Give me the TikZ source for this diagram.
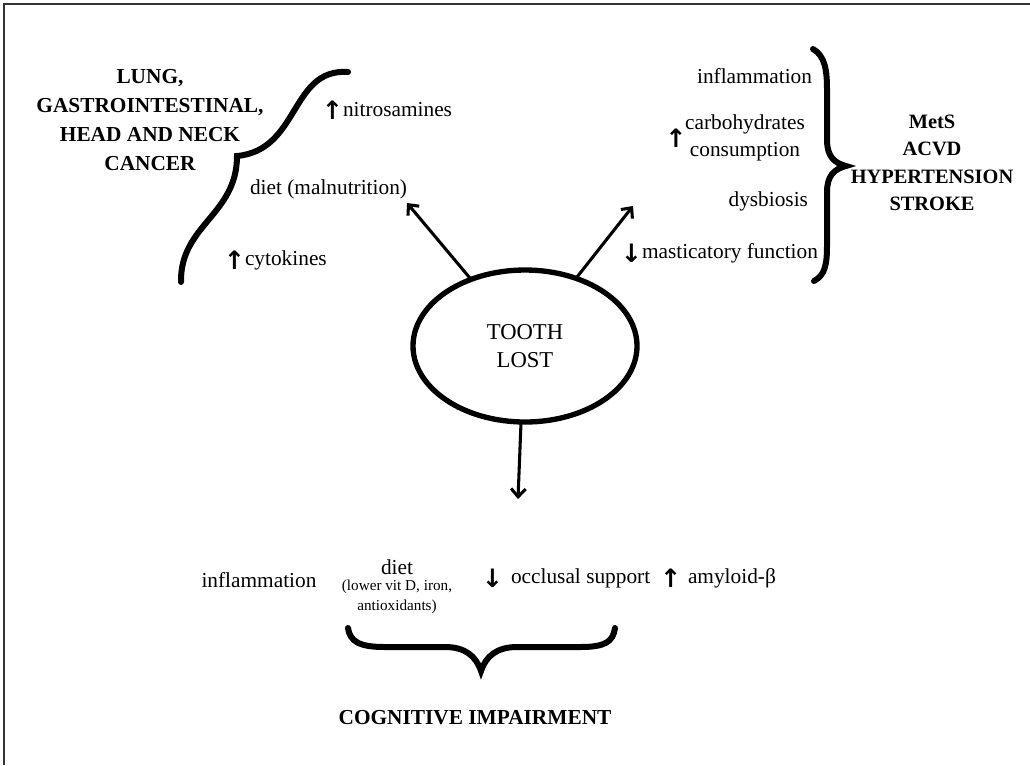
\documentclass[tikz,border=0pt]{standalone}
\usepackage{fontspec}
\setmainfont{Liberation Serif}
\newfontfamily\arrowfont{DejaVu Sans}
\usetikzlibrary{shapes.geometric,arrows.meta,positioning}

\begin{document}
\begin{tikzpicture}[x=0.75pt, y=-0.75pt,
        every node/.style={inner sep=0pt, outer sep=0pt, font=\fontsize{16}{20}\selectfont},
        disease/.style={align=center, font=\fontsize{16}{21.6}\selectfont\bfseries},
        factor/.style={align=center},
        small/.style={align=center, font=\fontsize{11.4}{15}\selectfont},
        updown/.style={font=\arrowfont\bfseries\fontsize{19}{19}\selectfont},
        link/.style={line width=2.3pt, -{Straight Barb[length=6pt,width=11pt,line width=2.3pt]}},
        curly/.style={line width=4.5pt, line cap=round, line join=miter}]
        \useasboundingbox (0,0) rectangle (1030,765);
        \draw[line width=1.5pt, black!80] (4,765) -- (4,4) -- (1030,4);

        % centre
        \node[ellipse, draw, line width=4pt, minimum width=168pt, minimum height=114pt,
            align=center, font=\fontsize{17}{21.5}\selectfont] (tooth) at (525,346) {TOOTH\\LOST};
        \coordinate (dietend) at (407,203);
        \coordinate (metsend) at (633,206);
        \coordinate (cogend) at (518,499);
        \draw[link] (tooth.129) -- (dietend);
        \draw[link] (tooth.53) -- (metsend);
        \draw[link] (tooth.267) -- (cogend);

        % cancer side
        \node[disease] (cancer) at (150,120) {LUNG,\\GASTROINTESTINAL,\\HEAD AND NECK\\CANCER};
        \node[anchor=west] (nitro) at (343,110) {nitrosamines};
        \node[updown, left=0pt of nitro] (nitroup) {↑};
        \node[anchor=west] (dietmal) at (250,189) {diet (malnutrition)};
        \node[anchor=west] (cyto) at (245,260) {cytokines};
        \node[updown, left=0pt of cyto] (cytoup) {↑};
        \draw[curly] (181,282) .. controls (180,225) and (237,215) .. (237,156)
            .. controls (300,150) and (290,68) .. (348,72);

        % metabolic side
        \node[anchor=east] (inflamR) at (812,76) {inflammation};
        \node[factor] (carbo) at (745,138) {carbohydrates\\consumption};
        \node[updown, left=-1pt of carbo] (carboup) {↑};
        \node[anchor=east] (dysb) at (808,201) {dysbiosis};
        \node[anchor=west] (mast) at (642,253) {masticatory function};
        \node[updown, left=0pt of mast] (mastdown) {↓};
        \draw[curly] (813,49) .. controls (825,56) and (827,70) .. (827,90) -- (827,140)
            .. controls (827,156) and (834,163) .. (846,166)
            .. controls (834,169) and (827,176) .. (827,192) -- (827,245)
            .. controls (827,265) and (825,275) .. (814,281);
        \node[disease, font=\fontsize{15.3}{20.5}\selectfont\bfseries] (mets) at (932,163) {MetS\\ACVD\\HYPERTENSION\\STROKE};

        % cognitive side
        \node (inflamB) at (259,580) {inflammation};
        \node (dietB) at (397,567) {diet};
        \node[small, below=4pt of dietB] (dietlist) {(lower vit D, iron,\\antioxidants)};
        \node[anchor=west] (occl) at (511,578) {occlusal support};
        \node[updown, left=6pt of occl] (occldown) {↓};
        \node[anchor=west] (amyl) at (688,578) {amyloid-β};
        \node[updown, left=5pt of amyl] (amylup) {↑};
        \draw[curly] (348,628) .. controls (350,642) and (360,647) .. (385,647) -- (445,647)
            .. controls (465,647) and (476,656) .. (481,671)
            .. controls (486,656) and (497,647) .. (517,647) -- (580,647)
            .. controls (605,647) and (613,642) .. (615,628);
        \node[font=\fontsize{16}{20}\selectfont\bfseries] (cogn) at (475,718) {COGNITIVE IMPAIRMENT};
\end{tikzpicture}
\end{document}
